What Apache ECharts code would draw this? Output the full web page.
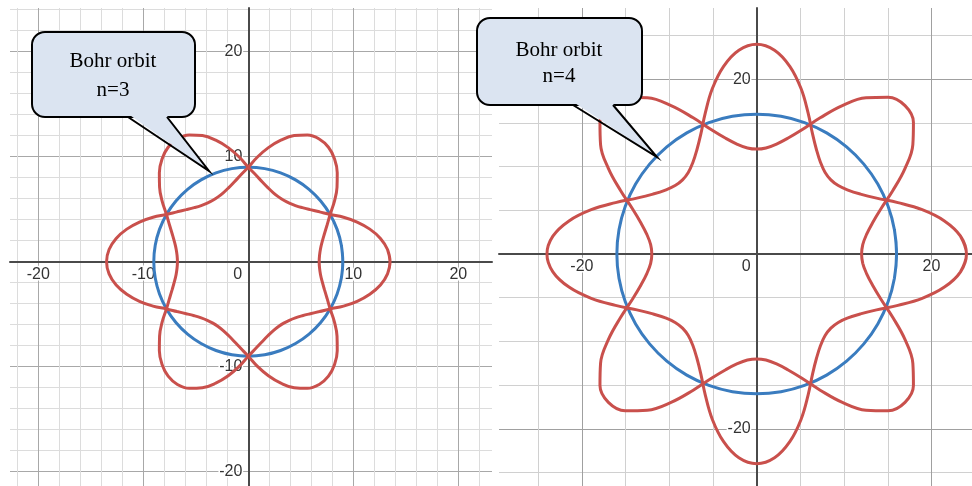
<!DOCTYPE html>
<html><head><meta charset="utf-8">
<script src="https://cdn.jsdelivr.net/npm/echarts@6/dist/echarts.min.js"></script>
<style>html,body{margin:0;padding:0;background:#fff}#c{width:972px;height:486px}</style>
</head><body><div id="c"></div>
<script>
// ---------- data (polar: radius at each angle in degrees) ----------
// angles (degrees) at which the standing-wave curves were read
const waveAngles = [-5,0,5,10,15,20,25,30,35,40,45,50,55,60,65,70,75,80,85,90,95,100,105,110,115,120,125,130,135,140,145,150,155,160,165,170,175,180,185,190,195,200,205,210,215,220,225,230,235,240,245,250,255,260,265,270,275,280,285,290,295,300,305,310,315,320,325,330,335,340,345,350,355,360,365];
// angles at which the Bohr-orbit circles were read
const orbitAngles = [-10,0,10,20,30,40,50,60,70,80,90,100,110,120,130,140,150,160,170,180,190,200,210,220,230,240,250,260,270,280,290,300,310,320,330,340,350,360,370];

// Left panel, n = 3
const orbit3 = [9,9,9,9,9,9,9,9,9,9,9,9,9,9,9,9,9,9,9,9,9,9,9,9,9,9,9,9,9,9,9,9,9,9,9,9,9,9,9];
const wave3a = [13.31,
  13.5,13.31,12.78,11.98,11.03,10.01,9,8.28,7.71,7.28,6.98,6.81,6.75,6.81,6.98,7.28,7.71,8.28,9,10.01,11.03,11.98,12.78,13.31,
  13.5,13.31,12.78,11.98,11.03,10.01,9,8.28,7.71,7.28,6.98,6.81,6.75,6.81,6.98,7.28,7.71,8.28,9,10.01,11.03,11.98,12.78,13.31,
  13.5,13.31,12.78,11.98,11.03,10.01,9,8.28,7.71,7.28,6.98,6.81,6.75,6.81,6.98,7.28,7.71,8.28,9,10.01,11.03,11.98,12.78,13.31,
  13.5,13.31];
const wave3b = [6.81,
  6.75,6.81,6.98,7.28,7.71,8.28,9,10.01,11.03,11.98,12.78,13.31,13.5,13.31,12.78,11.98,11.03,10.01,9,8.28,7.71,7.28,6.98,6.81,
  6.75,6.81,6.98,7.28,7.71,8.28,9,10.01,11.03,11.98,12.78,13.31,13.5,13.31,12.78,11.98,11.03,10.01,9,8.28,7.71,7.28,6.98,6.81,
  6.75,6.81,6.98,7.28,7.71,8.28,9,10.01,11.03,11.98,12.78,13.31,13.5,13.31,12.78,11.98,11.03,10.01,9,8.28,7.71,7.28,6.98,6.81,
  6.75,6.81];
// Right panel, n = 4
const orbit4 = [16,16,16,16,16,16,16,16,16,16,16,16,16,16,16,16,16,16,16,16,16,16,16,16,16,16,16,16,16,16,16,16,16,16,16,16,16,16,16];
const wave4a = [23.41,
  24,23.41,21.81,19.6,17.19,15.13,13.71,12.75,12.18,12,12.18,12.75,13.71,15.13,17.19,19.6,21.81,23.41,
  24,23.41,21.81,19.6,17.19,15.13,13.71,12.75,12.18,12,12.18,12.75,13.71,15.13,17.19,19.6,21.81,23.41,
  24,23.41,21.81,19.6,17.19,15.13,13.71,12.75,12.18,12,12.18,12.75,13.71,15.13,17.19,19.6,21.81,23.41,
  24,23.41,21.81,19.6,17.19,15.13,13.71,12.75,12.18,12,12.18,12.75,13.71,15.13,17.19,19.6,21.81,23.41,
  24,23.41];
const wave4b = [12.18,
  12,12.18,12.75,13.71,15.13,17.19,19.6,21.81,23.41,24,23.41,21.81,19.6,17.19,15.13,13.71,12.75,12.18,
  12,12.18,12.75,13.71,15.13,17.19,19.6,21.81,23.41,24,23.41,21.81,19.6,17.19,15.13,13.71,12.75,12.18,
  12,12.18,12.75,13.71,15.13,17.19,19.6,21.81,23.41,24,23.41,21.81,19.6,17.19,15.13,13.71,12.75,12.18,
  12,12.18,12.75,13.71,15.13,17.19,19.6,21.81,23.41,24,23.41,21.81,19.6,17.19,15.13,13.71,12.75,12.18,
  12,12.18];

// grid / tick values
const minorL_x = [-22,-20,-18,-16,-14,-12,-10,-8,-6,-4,-2,0,2,4,6,8,10,12,14,16,18,20,22];
const minorL_y = [-20,-18,-16,-14,-12,-10,-8,-6,-4,-2,0,2,4,6,8,10,12,14,16,18,20,22,24];
const majorL   = [-20,-10,10,20];
const labelsL_x = [-20,-10,0,10,20];
const labelsL_y = [-20,-10,10,20];
const minorR_x = [-25,-20,-15,-10,-5,0,5,10,15,20];
const minorR_y = [-25,-20,-15,-10,-5,0,5,10,15,20,25];
const majorR   = [-20,20];
const labelsR_x = [-20,0,20];
const labelsR_y = [-20,20];

const bubble3Lines = ['Bohr orbit','n=3'];
const bubble4Lines = ['Bohr orbit','n=4'];

// ---------- layout ----------
const RED = '#c9504c', BLUE = '#3a7cbf';
const P = [
  {ox:248.3, oy:261.7, s:10.5, left:10,  top:8, right:492, bottom:486, rMax:30,
   minorX:minorL_x, minorY:minorL_y, majorX:majorL, majorY:majorL, labX:labelsL_x, labY:labelsL_y,
   minorColor:'#dcdcdc', majorColor:'#a8a8a8'},
  {ox:756.7, oy:254, s:8.74, left:499, top:8, right:972, bottom:486, rMax:40,
   minorX:minorR_x, minorY:minorR_y, majorX:majorR, majorY:majorR, labX:labelsR_x, labY:labelsR_y,
   minorColor:'#d0d0d0', majorColor:'#a0a0a0'}
];
const LABEL_FONT = 'Liberation Sans, Arial, sans-serif';
const labelStyle = {fontSize:16, color:'#333', fontFamily:LABEL_FONT, textBorderColor:'#fff', textBorderWidth:3};

const grids=[], xAxes=[], yAxes=[], polars=[], angleAxes=[], radiusAxes=[];
P.forEach((p,i)=>{
  grids.push({left:p.left, top:p.top, width:p.right-p.left, height:p.bottom-p.top, show:false,
    containLabel:false, outerBoundsMode:'none'});
  const xmin=(p.left-p.ox)/p.s, xmax=(p.right-p.ox)/p.s;
  const ymax=(p.oy-p.top)/p.s, ymin=(p.oy-p.bottom)/p.s;
  // minor grid axes
  xAxes.push({type:'value', gridIndex:i, position:'top', min:xmin, max:xmax,
    axisLine:{show:false,onZero:false}, axisTick:{show:false, customValues:p.minorX}, axisLabel:{show:false},
    splitLine:{show:true, lineStyle:{color:p.minorColor, width:1}}});
  yAxes.push({type:'value', gridIndex:i, position:'right', min:ymin, max:ymax,
    axisLine:{show:false,onZero:false}, axisTick:{show:false, customValues:p.minorY}, axisLabel:{show:false},
    splitLine:{show:true, lineStyle:{color:p.minorColor, width:1}}});
  // major grid axes; axis lines moved onto the origin with offset
  xAxes.push({type:'value', gridIndex:i, position:'bottom', offset:-(p.bottom-p.oy), min:xmin, max:xmax,
    axisLine:{show:true, onZero:false, lineStyle:{color:'#4a4a4a', width:2}},
    axisTick:{show:false, customValues:p.majorX},
    axisLabel:Object.assign({show:true, customValues:p.labX, margin:5,
      formatter:v=> v===0 ? '{z|0}' : String(v),
      rich:{z:Object.assign({padding:[0,21,0,0]}, labelStyle)}}, labelStyle),
    splitLine:{show:true, lineStyle:{color:p.majorColor, width:1}}});
  yAxes.push({type:'value', gridIndex:i, position:'left', offset:-(p.ox-p.left), min:ymin, max:ymax,
    axisLine:{show:true, onZero:false, lineStyle:{color:'#4a4a4a', width:2}},
    axisTick:{show:false, customValues:p.majorY},
    axisLabel:Object.assign({show:true, customValues:p.labY, margin:6}, labelStyle),
    splitLine:{show:true, lineStyle:{color:p.majorColor, width:1}}});
  polars.push({center:[p.ox,p.oy], radius:p.rMax*p.s});
  angleAxes.push({polarIndex:i, type:'value', min:0, max:360, startAngle:0, clockwise:false, show:false});
  radiusAxes.push({polarIndex:i, type:'value', min:0, max:p.rMax, show:false});
});

const pairs=(r,a)=>r.map((v,k)=>[v,a[k]]);
const curve=(pi,r,a,color)=>({type:'line', coordinateSystem:'polar', polarIndex:pi, data:pairs(r,a),
  smooth:0.4, showSymbol:false, clip:false, silent:true, lineStyle:{color, width:3}, z:3});

function bubble(rect, tail, tip, lines, tx, ty){
  const bottom = rect.y+rect.h;
  const fill = '#dbe4f1';
  const els = [
    {type:'rect', shape:{x:rect.x,y:rect.y,width:rect.w,height:rect.h,r:13}, style:{fill, stroke:'#000', lineWidth:2}, z:100},
    {type:'polygon', shape:{points:[[tail[0]+1,bottom-2.5],tip,[tail[1]-1,bottom-2.5]]}, style:{fill}, z:101},
    {type:'polyline', shape:{points:[[tail[0],bottom],tip,[tail[1],bottom]]}, style:{stroke:'#000', lineWidth:2, fill:null}, z:102}
  ];
  lines.forEach((t,k)=>els.push({type:'text', x:tx, y:ty[k], z:103,
    style:{text:t, fontSize:21, fontFamily:'Liberation Serif, Times New Roman, serif', fill:'#000',
      textAlign:'center', align:'center', textVerticalAlign:'middle', verticalAlign:'middle'}}));
  return els;
}

const chart = echarts.init(document.getElementById('c'), null, {renderer:'canvas'});
chart.setOption({
  animation:false,
  backgroundColor:'#fff',
  grid:grids, xAxis:xAxes, yAxis:yAxes,
  polar:polars, angleAxis:angleAxes, radiusAxis:radiusAxes,
  series:[
    curve(0, orbit3, orbitAngles, BLUE),
    curve(0, wave3a, waveAngles, RED),
    curve(0, wave3b, waveAngles, RED),
    curve(1, orbit4, orbitAngles, BLUE),
    curve(1, wave4a, waveAngles, RED),
    curve(1, wave4b, waveAngles, RED)
  ],
  graphic:{elements:[
    ...bubble({x:32,y:32,w:163,h:85}, [128,167], [209,171], bubble3Lines, 113, [61,90]),
    ...bubble({x:477,y:18,w:165,h:87}, [573,613], [657,157], bubble4Lines, 559, [50,76])
  ]}
});
</script></body></html>
